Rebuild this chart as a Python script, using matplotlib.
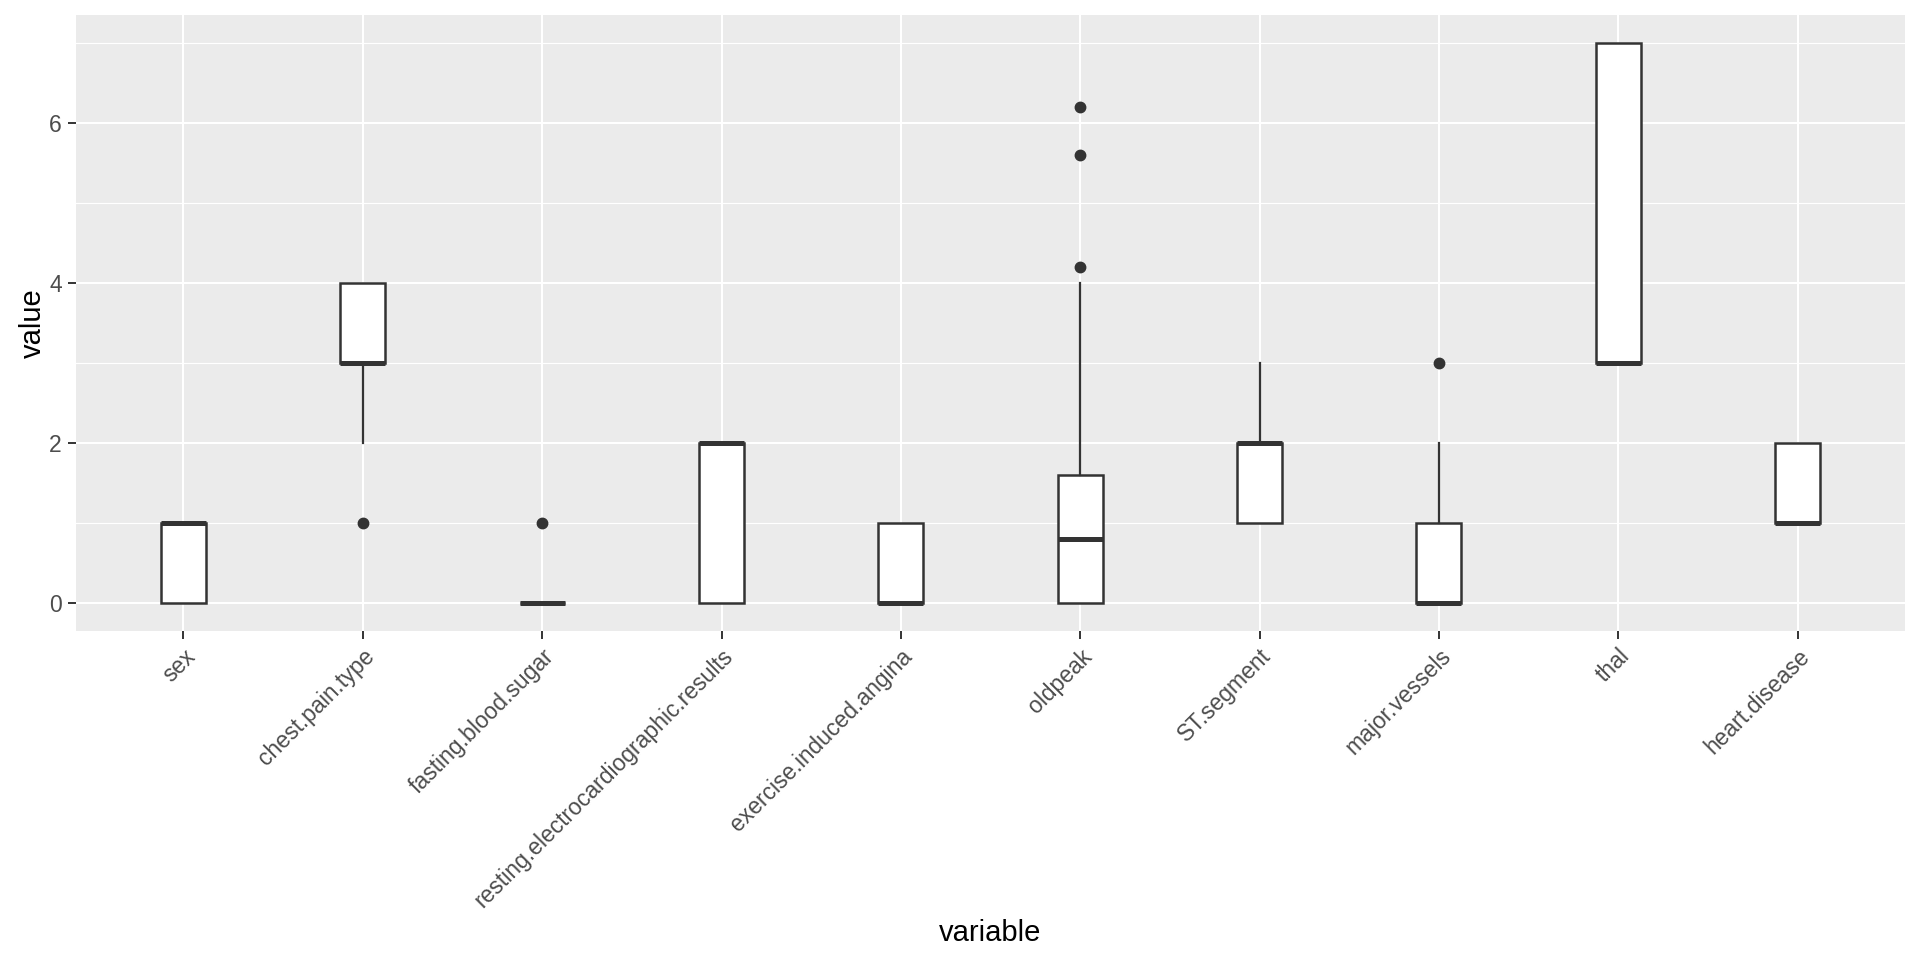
import matplotlib.pyplot as plt
import numpy as np

plt.rcParams['font.family'] = ['Liberation Sans', 'DejaVu Sans']

variables = ['sex', 'chest.pain.type', 'fasting.blood.sugar',
             'resting.electrocardiographic.results', 'exercise.induced.angina',
             'oldpeak', 'ST.segment', 'major.vessels', 'thal', 'heart.disease']
whislo = [0, 2, 0, 0, 0, 0.0, 1, 0, 3, 1]
q1 = [0, 3, 0, 0, 0, 0.0, 1, 0, 3, 1]
med = [1, 3, 0, 2, 0, 0.8, 2, 0, 3, 1]
q3 = [1, 4, 0, 2, 1, 1.6, 2, 1, 7, 2]
whishi = [1, 4, 0, 2, 1, 4.0, 3, 2, 7, 2]
fliers = [[], [1], [1], [], [], [4.2, 5.6, 6.2], [], [3], [], []]

stats = []
for i, name in enumerate(variables):
    stats.append({'label': name, 'whislo': whislo[i], 'q1': q1[i], 'med': med[i],
                  'q3': q3[i], 'whishi': whishi[i], 'fliers': fliers[i]})

fig = plt.figure(figsize=(19.2, 9.6), dpi=100)
ax = fig.add_axes([0.0395, 0.343, 0.9528, 0.6417])
ax.set_facecolor('#EBEBEB')

dark = '#333333'
pos = np.arange(1, len(variables) + 1)
ax.bxp(stats, positions=pos, widths=0.25, patch_artist=True, showcaps=False,
       boxprops=dict(facecolor='white', edgecolor=dark, linewidth=1.8),
       medianprops=dict(color=dark, linewidth=3.6, solid_capstyle='butt'),
       whiskerprops=dict(color=dark, linewidth=1.6),
       flierprops=dict(marker='o', markerfacecolor=dark, markeredgecolor=dark,
                       markersize=7.5, linestyle='none'),
       zorder=3)

ax.set_xlim(0.4, 10.6)
ax.set_ylim(-0.35, 7.35)
ax.set_yticks([0, 2, 4, 6])
ax.set_yticks([1, 3, 5, 7], minor=True)
ax.set_xticks(pos)
ax.set_xticklabels(variables, rotation=45, ha='right', va='top',
                   rotation_mode='anchor')
ax.grid(True, which='major', color='white', linewidth=1.5, zorder=0)
ax.grid(True, which='minor', axis='y', color='white', linewidth=0.8, zorder=0)
ax.set_axisbelow(True)
for s in ax.spines.values():
    s.set_visible(False)
ax.tick_params(axis='both', which='major', color=dark, length=6, width=1.4,
               labelcolor='#4D4D4D', labelsize=16.5, pad=4)
ax.tick_params(axis='y', which='minor', length=0)

ax.set_xlabel('variable', fontsize=21, labelpad=5)
ax.set_ylabel('value', fontsize=21, labelpad=2)

fig.savefig('out.png', dpi=100)
